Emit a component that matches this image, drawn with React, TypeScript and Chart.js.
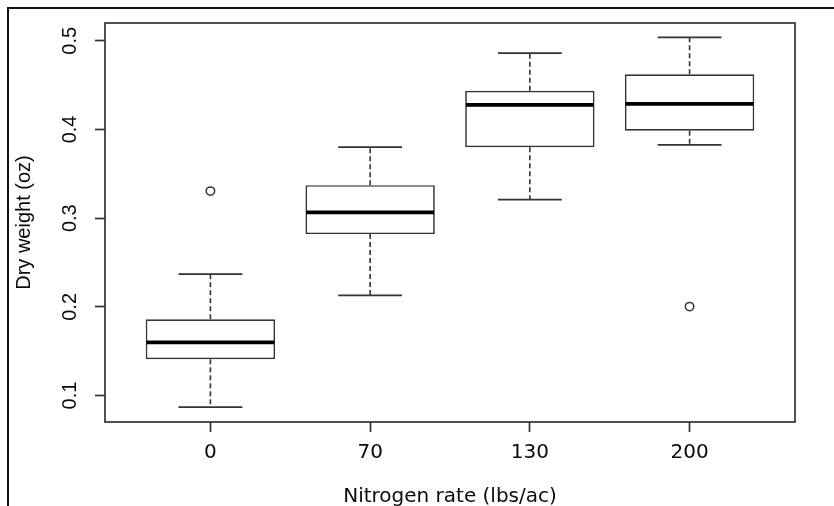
import React, { useEffect, useRef } from "react";
import { Chart, registerables } from "chart.js";

Chart.register(...registerables);

// ---- data ----
const groups = ["0", "70", "130", "200"];
const lowerWhisker = [0.087, 0.213, 0.321, 0.3825];
const q1 = [0.141, 0.282, 0.380, 0.3986];
const medians = [0.160, 0.3066, 0.4278, 0.4289];
const q3 = [0.186, 0.3372, 0.4435, 0.4622];
const upperWhisker = [0.237, 0.380, 0.4861, 0.5037];
const outlierGroup = [0, 3];
const outlierValues = [0.3305, 0.2003];
const yTicks = [0.1, 0.2, 0.3, 0.4, 0.5];
const xTitle = "Nitrogen rate (lbs/ac)";
const yTitle = "Dry weight (oz)";

const Y_MIN = 0.0702;
const Y_MAX = 0.52;
const X_MIN = 0.34;
const X_MAX = 4.66;
const BOX_HALF = 0.4;
const CAP_HALF = 0.2;

const LINE = "#333333";
const VFONT = "'Liberation Sans', Arial, sans-serif";
const HFONT = "'DejaVu Sans', sans-serif";

const framePlugin = {
  id: "frame",
  afterDatasetsDraw(chart: any) {
    const { ctx, chartArea } = chart;
    const { left, top, right, bottom } = chartArea;
    ctx.save();
    ctx.strokeStyle = LINE;
    ctx.lineWidth = 1.7;
    ctx.strokeRect(left, top, right - left, bottom - top);
    ctx.restore();
  },
};

export default function App() {
  const ref = useRef<HTMLCanvasElement>(null);

  useEffect(() => {
    const canvas = ref.current;
    if (!canvas) return;
    const pos = groups.map((_, i) => i + 1);

    const boxData = pos.map((x, i) => ({ x, y: [q1[i], q3[i]] }));

    const whiskerData: any[] = [];
    const capData: any[] = [];
    const medianData: any[] = [];
    pos.forEach((x, i) => {
      whiskerData.push(
        { x, y: q3[i] },
        { x, y: upperWhisker[i] },
        { x, y: null },
        { x, y: q1[i] },
        { x, y: lowerWhisker[i] },
        { x, y: null }
      );
      capData.push(
        { x: x - CAP_HALF, y: upperWhisker[i] },
        { x: x + CAP_HALF, y: upperWhisker[i] },
        { x, y: null },
        { x: x - CAP_HALF, y: lowerWhisker[i] },
        { x: x + CAP_HALF, y: lowerWhisker[i] },
        { x, y: null }
      );
      medianData.push(
        { x: x - BOX_HALF, y: medians[i] },
        { x: x + BOX_HALF, y: medians[i] },
        { x, y: null }
      );
    });
    const outlierData = outlierGroup.map((g, k) => ({ x: g + 1, y: outlierValues[k] }));

    const chart = new Chart(canvas, {
      type: "bar",
      data: {
        datasets: [
          {
            type: "bar",
            data: boxData as any,
            backgroundColor: "#ffffff",
            borderColor: LINE,
            borderWidth: 1.7,
            borderSkipped: false,
            categoryPercentage: 1,
            barPercentage: 0.81,
            order: 4,
          } as any,
          {
            type: "line",
            data: whiskerData,
            borderColor: LINE,
            borderWidth: 1.6,
            borderDash: [5, 3],
            pointRadius: 0,
            fill: false,
            tension: 0,
            spanGaps: false,
            order: 3,
          } as any,
          {
            type: "line",
            data: capData,
            borderColor: LINE,
            borderWidth: 1.7,
            pointRadius: 0,
            fill: false,
            tension: 0,
            spanGaps: false,
            order: 2,
          } as any,
          {
            type: "line",
            data: medianData,
            borderColor: "#000000",
            borderWidth: 3.8,
            pointRadius: 0,
            fill: false,
            tension: 0,
            spanGaps: false,
            order: 1,
          } as any,
          {
            type: "scatter",
            data: outlierData,
            showLine: false,
            pointStyle: "circle",
            pointRadius: 4.2,
            pointBorderWidth: 1.5,
            pointBackgroundColor: "rgba(255,255,255,0)",
            pointBorderColor: LINE,
            order: 0,
          } as any,
        ],
      },
      options: {
        responsive: false,
        animation: false,
        devicePixelRatio: 1,
        layout: { padding: { top: 21, right: 39, bottom: 0, left: 0 } },
        plugins: {
          legend: { display: false },
          tooltip: { enabled: false },
        },
        scales: {
          x: {
            type: "linear",
            min: X_MIN,
            max: X_MAX,
            offset: false,
            afterBuildTicks: (axis: any) => {
              axis.ticks = pos.map((v) => ({ value: v }));
            },
            afterFit: (axis: any) => {
              axis.height = 98;
            },
            grid: {
              display: true,
              offset: false,
              drawOnChartArea: false,
              drawTicks: true,
              tickLength: 10,
              tickColor: LINE,
              tickWidth: 1.7,
            },
            border: { display: false },
            ticks: {
              autoSkip: false,
              maxRotation: 0,
              minRotation: 0,
              padding: 9,
              color: "#0a0a0a",
              font: { family: HFONT, size: 20 },
              callback: (v: any) => groups[Math.round(Number(v)) - 1] ?? "",
            },
            title: {
              display: true,
              text: xTitle,
              color: "#0a0a0a",
              font: { family: HFONT, size: 20 },
              padding: { top: 0, bottom: 11 },
            },
          },
          y: {
            type: "linear",
            min: Y_MIN,
            max: Y_MAX,
            offset: false,
            afterBuildTicks: (axis: any) => {
              axis.ticks = yTicks.map((v) => ({ value: v }));
            },
            afterFit: (axis: any) => {
              axis.width = 105;
            },
            grid: {
              display: true,
              offset: false,
              drawOnChartArea: false,
              drawTicks: true,
              tickLength: 10,
              tickColor: LINE,
              tickWidth: 1.7,
            },
            border: { display: false },
            ticks: {
              autoSkip: false,
              minRotation: 90,
              maxRotation: 90,
              crossAlign: "center",
              padding: 11,
              color: "#0a0a0a",
              font: { family: VFONT, size: 20 },
              callback: (v: any) => Number(v).toFixed(1),
            },
            title: {
              display: true,
              text: yTitle,
              color: "#0a0a0a",
              font: { family: VFONT, size: 20 },
              padding: { top: 12, bottom: 0 },
            },
          },
        },
      } as any,
      plugins: [framePlugin],
    });

    return () => chart.destroy();
  }, []);

  return (
    <div
      style={{
        position: "fixed",
        left: 0,
        top: 0,
        width: 834,
        height: 506,
        overflow: "hidden",
        background: "#ffffff",
      }}
    >
      <canvas
        ref={ref}
        width={834}
        height={520}
        style={{ position: "absolute", left: 0, top: 0 }}
      />
      <div
        style={{
          position: "absolute",
          left: 7,
          top: 7,
          width: 900,
          height: 600,
          borderTop: "2px solid #111",
          borderLeft: "2px solid #111",
          pointerEvents: "none",
        }}
      />
    </div>
  );
}
